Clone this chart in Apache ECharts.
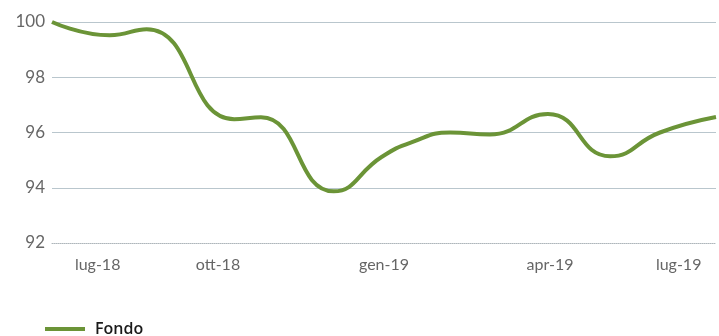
<!DOCTYPE html>
<html><head><meta charset="utf-8">
<script src="https://cdn.jsdelivr.net/npm/echarts@6/dist/echarts.min.js"></script>
<style>html,body{margin:0;padding:0;background:#fff}#c{width:719px;height:336px}</style>
</head><body><div id="c"></div>
<script>
// x positions are in "period slots" (0 .. 32); labels shown at some slot positions
const positions = [0, 2.78, 4.56, 8.78, 10.07, 13.58, 15.9, 17.32, 19.19, 21.1, 23.9, 26.9, 29.3, 32];
const fondo =     [100.0, 99.52, 99.74, 96.48, 96.55, 93.87, 95.12, 95.64, 96.0, 95.93, 96.67, 95.14, 96.0, 96.56];
const tickPositions = [2.2, 8, 16, 24, 30.2];
const tickLabels = ['lug-18', 'ott-18', 'gen-19', 'apr-19', 'lug-19'];
const yTicks = [92, 94, 96, 98, 100];

const seriesData = positions.map((p, i) => [p, fondo[i]]);
const labelAt = {};
tickPositions.forEach((p, i) => { labelAt[Math.round(p * 5)] = tickLabels[i]; });

const chart = echarts.init(document.getElementById('c'));
chart.setOption({
  animation: false,
  grid: {left: 52, right: 0, top: 22, bottom: 93, containLabel: false},
  legend: {
    left: 40, top: 316, itemWidth: 40, itemHeight: 4, icon: 'rect',
    textStyle: {fontFamily: 'Open Sans', fontWeight: 600, fontSize: 16, color: '#1a1a1a', padding: [0, 0, 0, 5]},
    data: ['Fondo']
  },
  xAxis: {
    type: 'value', min: 0, max: 32, interval: 0.2,
    axisLine: {show: true, onZero: false, lineStyle: {color: '#aeb6bb', type: 'dotted', width: 1}},
    axisTick: {show: false},
    splitLine: {show: false},
    axisLabel: {
      showMinLabel: true, showMaxLabel: true, hideOverlap: false,
      formatter: (v) => labelAt[Math.round(v * 5)] || '',
      fontFamily: 'Lato', fontSize: 16, color: '#666', margin: 14
    }
  },
  yAxis: {
    type: 'value', min: yTicks[0], max: yTicks[yTicks.length - 1], interval: 2,
    axisLine: {show: false}, axisTick: {show: false},
    axisLabel: {fontFamily: 'Lato', fontSize: 17, color: '#666', margin: 7},
    splitLine: {show: true, showMinLine: false, lineStyle: {color: '#b9c6cd', width: 1}}
  },
  series: [{
    name: 'Fondo', type: 'line', data: seriesData, smooth: 0.5, symbol: 'none',
    lineStyle: {color: '#6b9437', width: 4}, itemStyle: {color: '#6b9437'}
  }]
});
</script></body></html>
